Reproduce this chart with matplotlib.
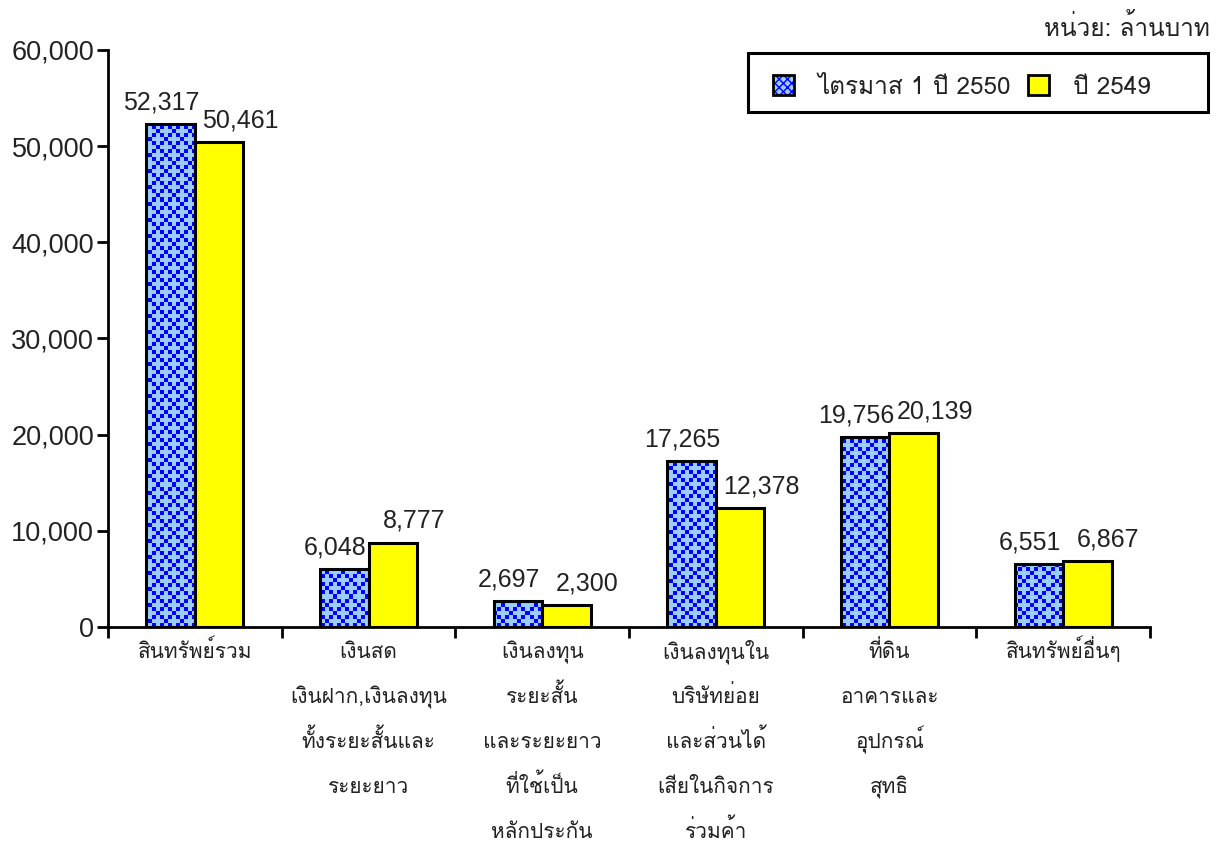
import numpy as np
import matplotlib
matplotlib.use("Agg")
import matplotlib.pyplot as plt
from matplotlib import font_manager as fm
from matplotlib.ft2font import FT2Font
from matplotlib.patches import Patch, Rectangle
from matplotlib.colors import ListedColormap
from matplotlib.legend_handler import HandlerTuple
from matplotlib.transforms import offset_copy

# ---------------- data ----------------
categories = [
    "สินทรัพย์รวม",
    "เงินสด\nเงินฝาก,เงินลงทุน\nทั้งระยะสั้นและ\nระยะยาว",
    "เงินลงทุน\nระยะสั้น\nและระยะยาว\nที่ใช้เป็น\nหลักประกัน",
    "เงินลงทุนใน\nบริษัทย่อย\nและส่วนได้\nเสียในกิจการ\nร่วมค้า",
    "ที่ดิน\nอาคารและ\nอุปกรณ์\nสุทธิ",
    "สินทรัพย์อื่นๆ",
]
q1_2550 = [52317, 6048, 2697, 17265, 19756, 6551]
y_2549 = [50461, 8777, 2300, 12378, 20139, 6867]
series_names = ["ไตรมาส 1 ปี 2550", "ปี 2549"]
unit_text = "หน่วย: ล้านบาท"
yticks = [0, 10000, 20000, 30000, 40000, 50000, 60000]

# ---------------- fonts ----------------
def find_thai_font():
    paths = fm.findSystemFonts()
    found = []
    for p in paths:
        try:
            ft = FT2Font(p)
            cmap = ft.get_charmap()
            if 0x0E01 in cmap and 0x0E2A in cmap and 0x0E49 in cmap:
                found.append(p)
        except Exception:
            pass
    pref = ["Loma", "Garuda", "Norasi", "Kinnari", "Waree", "Tlwg", "NotoSansThai",
            "Noto Sans Thai", "Sarabun"]
    def rank(p):
        low = p.lower()
        r = len(pref)
        for i, k in enumerate(pref):
            if k.lower() in low:
                r = i
                break
        bold = any(k in low for k in ["bold", "oblique", "italic"])
        return (bold, r)
    found.sort(key=rank)
    for p in found:
        try:
            fm.fontManager.addfont(p)
            return fm.FontProperties(fname=p).get_name()
        except Exception:
            pass
    return None

thai = find_thai_font()
num_family = ["Liberation Sans", "DejaVu Sans"]
thai_family = ([thai] if thai else []) + ["Liberation Sans", "DejaVu Sans"]
plt.rcParams["font.family"] = num_family

txt_color = "#222222"

fig = plt.figure(figsize=(12.2, 8.41), dpi=100)
ax = fig.add_axes([108 / 1220, 1 - 627 / 841, (1150 - 108) / 1220, (627 - 50) / 841])

x = np.arange(len(categories))
w = 0.28
bars_blue = ax.bar(x - w / 2, q1_2550, w, color="#99CCFF", edgecolor="none", zorder=2)
bars_blue_out = ax.bar(x - w / 2, q1_2550, w, fill=False, edgecolor="black", linewidth=2.2, zorder=4)
bars_yel = ax.bar(x + w / 2, y_2549, w, color="#FFFF00", edgecolor="black", linewidth=2.2, zorder=4)

ax.set_xlim(-0.5, len(categories) - 0.5)
ax.set_ylim(0, 60000)

# diamond-lattice pattern for the blue bars (clipped to each bar)
fig.canvas.draw()
bb = ax.get_window_extent()
cell = 4.0
ncols = int(round(bb.width / cell))
nrows = int(round(bb.height / cell))
ii, jj = np.indices((nrows, ncols))
pattern = (((ii + jj) % 4 == 0) | ((ii - jj) % 4 == 0)).astype(float)
cmap = ListedColormap(["#99CCFF", "#0000FF"])
for b in bars_blue:
    im = ax.imshow(pattern, cmap=cmap, extent=(*ax.get_xlim(), *ax.get_ylim()),
                   aspect="auto", interpolation="nearest", zorder=3, origin="upper")
    im.set_clip_path(b)
ax.set_xlim(-0.5, len(categories) - 0.5)
ax.set_ylim(0, 60000)

# value labels
for b, v in zip(bars_blue, q1_2550):
    ax.annotate(f"{v:,}", (b.get_x() + b.get_width() / 2, v), xytext=(-6.5, 7),
                textcoords="offset points", ha="center", va="bottom",
                fontsize=18, color=txt_color, zorder=6)
for b, v in zip(bars_yel, y_2549):
    ax.annotate(f"{v:,}", (b.get_x() + b.get_width() / 2, v), xytext=(15, 7),
                textcoords="offset points", ha="center", va="bottom",
                fontsize=18, color=txt_color, zorder=6)

# spines & ticks
for s in ["top", "right"]:
    ax.spines[s].set_visible(False)
for s in ["left", "bottom"]:
    ax.spines[s].set_linewidth(2)
ax.set_yticks(yticks)
ax.set_yticklabels([f"{t:,}" for t in yticks], fontsize=19.5, color=txt_color)
ax.tick_params(axis="y", direction="out", length=8, width=2, pad=2)
ax.set_xticks(x)
ax.set_xticklabels([""] * len(categories))
ax.tick_params(axis="x", which="major", length=0)
ax.set_xticks(np.arange(-0.5, len(categories)), minor=True)
ax.tick_params(axis="x", which="minor", direction="out", length=8, width=2)

# multi-line category labels with fixed line pitch
xt = ax.get_xaxis_transform()
for xi, lab in zip(x, categories):
    for k, line in enumerate(lab.split("\n")):
        tr = offset_copy(xt, fig=fig, x=0, y=-(22.5 + 32.4 * k), units="points")
        ax.text(xi, 0, line, transform=tr, ha="center", va="baseline",
                fontsize=15, color=txt_color, family=thai_family, clip_on=False)

# legend (frameless) + separate box
h1 = (Patch(facecolor="#99CCFF", edgecolor="#0000FF", hatch="xxxx", linewidth=0),
      Patch(facecolor="none", edgecolor="black", linewidth=2))
h2 = Patch(facecolor="#FFFF00", edgecolor="black", linewidth=2)
leg = fig.legend([h1, h2], series_names, handler_map={tuple: HandlerTuple(ndivide=1)},
                 loc="center left", bbox_to_anchor=(773 / 1220, 1 - 87 / 841), ncol=2,
                 frameon=False, prop={"family": thai_family, "size": 17.5},
                 handlelength=0.85, handleheight=0.85, handletextpad=1.0,
                 columnspacing=0.7, borderpad=0, borderaxespad=0)
for t in leg.get_texts():
    t.set_color(txt_color)
fig.patches.append(Rectangle((748 / 1220, 1 - 112 / 841), (1208 - 748) / 1220, (112 - 53) / 841,
                             transform=fig.transFigure, fill=False, edgecolor="black",
                             linewidth=2.2, zorder=5))

fig.text(1210 / 1220, 1 - 28 / 841, unit_text, ha="right", va="center",
         fontsize=17.5, color=txt_color, family=thai_family)

fig.savefig("out.png", dpi=100)
